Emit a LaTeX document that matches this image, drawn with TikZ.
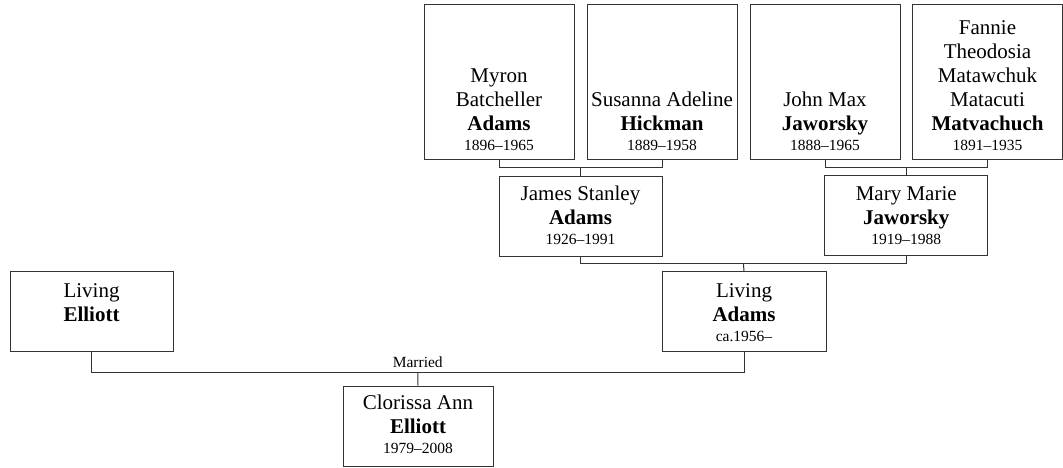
\documentclass[tikz,border=0pt]{standalone}
\usepackage{fontspec}
\setmainfont{Liberation Serif}
\usetikzlibrary{calc}
\newcommand\yr[1]{{\fontsize{15.5}{18}\selectfont #1}}
\begin{document}
\begin{tikzpicture}[x=1pt,y=-1pt]
\useasboundingbox (0,0) rectangle (1063,468);
\tikzset{
 box/.style={draw=black!80, line width=1pt, inner sep=0pt},
 topbox/.style={box, minimum width=150pt, minimum height=155pt},
 midbox/.style={box, minimum width=163pt, minimum height=80pt},
 lowbox/.style={box, minimum width=150pt, minimum height=80pt},
 pname/.style={align=center, inner sep=0pt, font=\fontsize{21}{24}\selectfont, anchor=base},
 link/.style={draw=black!80, line width=1pt},
 lbl/.style={anchor=base, inner sep=0pt, font=\fontsize{15.5}{18}\selectfont},
}
% boxes
\node[topbox] (myron) at (499,82.5) {};
\node[topbox] (susanna) at (662,82.5) {};
\node[topbox] (john) at (825,82.5) {};
\node[topbox] (fannie) at (987.5,82.5) {};
\node[midbox] (james) at (580.5,216) {};
\node[midbox] (mary) at (906.25,215.5) {};
\node[midbox, minimum width=164pt] (ladams) at (744,311.5) {};
\node[midbox] (lelliott) at (91.5,311.5) {};
\node[lowbox] (clorissa) at (418,426) {};
% texts
\node[pname] (tmyron) at ($(myron.south)+(0,-10)$) {Myron\\Batcheller\\\textbf{Adams}\\[-4pt]\yr{1896--1965}};
\node[pname] (tsusanna) at ($(susanna.south)+(0,-10)$) {Susanna Adeline\\\textbf{Hickman}\\[-4pt]\yr{1889--1958}};
\node[pname] (tjohn) at ($(john.south)+(0,-10)$) {John Max\\\textbf{Jaworsky}\\[-4pt]\yr{1888--1965}};
\node[pname] (tfannie) at ($(fannie.south)+(0,-10)$) {Fannie\\Theodosia\\Matawchuk\\Matacuti\\\textbf{Matvachuch}\\[-4pt]\yr{1891--1935}};
\node[pname] (tjames) at ($(james.north)+(0,69)$) {James Stanley\\\textbf{Adams}\\[-4pt]\yr{1926--1991}};
\node[pname] (tmary) at ($(mary.north)+(0,69)$) {Mary Marie\\\textbf{Jaworsky}\\[-4pt]\yr{1919--1988}};
\node[pname] (tladams) at ($(ladams.north)+(0,70)$) {Living\\\textbf{Adams}\\[-4pt]\yr{ca.1956--}};
\node[pname] (tlelliott) at ($(lelliott.north)+(0,50.5)$) {Living\\\textbf{Elliott}};
\node[pname] (tclorissa) at ($(clorissa.north)+(0,68)$) {Clorissa Ann\\\textbf{Elliott}\\[-4pt]\yr{1979--2008}};
% connectors
\draw[link] (myron.south) -- ++(0,7) -| (susanna.south);
\coordinate (b1) at ($(myron.south)!0.5!(susanna.south)+(0,7)$);
\draw[link] (b1) -- (james.north);
\draw[link] (john.south) -- ++(0,7) -| (fannie.south);
\coordinate (b2) at ($(john.south)!0.5!(fannie.south)+(0,7)$);
\draw[link] (b2) -- (mary.north);
\draw[link] (james.south) -- ++(0,7) -| (mary.south);
\coordinate (b3) at ($(james.south)!0.5!(mary.south)+(0,7)$);
\draw[link] (b3) -- (ladams.north);
\draw[link] (lelliott.south) -- ++(0,20.5) -| (ladams.south);
\coordinate (b4) at ($(lelliott.south)!0.5!(ladams.south)+(0,20.5)$);
\draw[link] (b4) -- (clorissa.north);
\node[lbl] (married) at ($(b4)+(0,-5)$) {Married};
\end{tikzpicture}
\end{document}
